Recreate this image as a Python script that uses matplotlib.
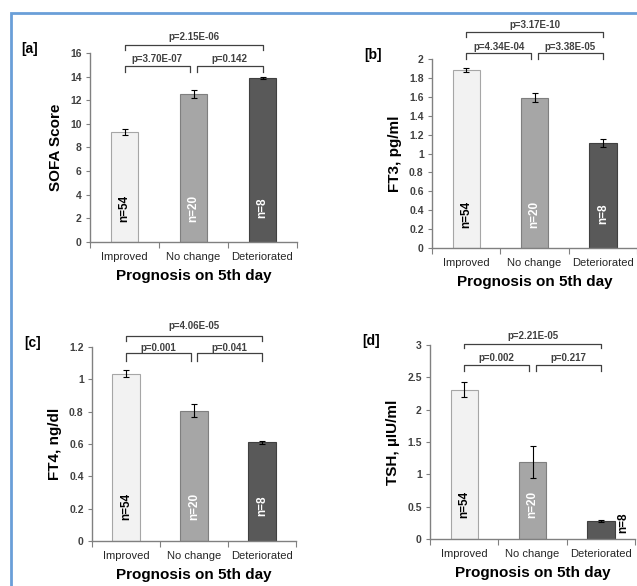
import matplotlib
matplotlib.use('Agg')
from matplotlib import pyplot as plt
from matplotlib.patches import Rectangle
import numpy as np

plt.rcParams['font.family'] = ['Liberation Sans', 'DejaVu Sans']

# Data
categories = ['Improved', 'No change', 'Deteriorated']
n_labels = ['n=54', 'n=20', 'n=8']

sofa = [9.3, 12.55, 13.9]
sofa_err = [0.25, 0.35, 0.1]
ft3 = [1.88, 1.59, 1.11]
ft3_err = [0.02, 0.05, 0.04]
ft4 = [1.035, 0.805, 0.61]
ft4_err = [0.02, 0.04, 0.01]
tsh = [2.31, 1.19, 0.28]
tsh_err = [0.12, 0.25, 0.02]

p_sofa = ['p=3.70E-07', 'p=0.142', 'p=2.15E-06']
p_ft3 = ['p=4.34E-04', 'p=3.38E-05', 'p=3.17E-10']
p_ft4 = ['p=0.001', 'p=0.041', 'p=4.06E-05']
p_tsh = ['p=0.002', 'p=0.217', 'p=2.21E-05']

bar_colors = ['#f2f2f2', '#a6a6a6', '#595959']
edge_colors = ['#a6a6a6', '#7f7f7f', '#404040']
n_colors = ['black', 'white', 'white']
dark = '#404040'

W, H = 637, 586
fig = plt.figure(figsize=(W / 100, H / 100), dpi=100)

# light blue frame around the whole figure
fig.patches.append(Rectangle((11 / W, -0.05), 1.1, 1 - 13 / H + 0.05, transform=fig.transFigure,
                             fill=False, edgecolor='#6a9fd8', linewidth=2))


def panel(rect, values, errs, ymax, ystep, ylabel, tag, pvals, brk, nd_outside=False):
    ax = fig.add_axes(rect)
    x = np.arange(len(categories))
    for i in range(len(categories)):
        ax.bar(x[i], values[i], width=0.4, color=bar_colors[i], edgecolor=edge_colors[i], linewidth=0.8)
    ax.errorbar(x, values, yerr=errs, fmt='none', ecolor='black', elinewidth=0.8, capsize=2, capthick=0.8)

    ax.set_xlim(-0.5, 2.5)
    ax.set_ylim(0, ymax)
    ticks = np.arange(0, ymax + ystep / 2, ystep)
    ax.set_yticks(ticks)
    ax.set_yticklabels(['%g' % t for t in ticks])
    ax.set_xticks([-0.5, 0.5, 1.5, 2.5])
    ax.set_xticklabels([])
    ax.set_xticks(x, minor=True)
    ax.set_xticklabels(categories, minor=True, fontsize=8, color='#262626')
    ax.tick_params(axis='x', which='major', length=4, color='#808080')
    ax.tick_params(axis='x', which='minor', length=0, pad=7)
    ax.tick_params(axis='y', length=3, color='#808080', labelsize=7.5, labelcolor=dark, pad=3)
    for t in ax.get_yticklabels():
        t.set_fontweight('bold')
    for s in ['top', 'right']:
        ax.spines[s].set_visible(False)
    for s in ['left', 'bottom']:
        ax.spines[s].set_color('#808080')
        ax.spines[s].set_linewidth(1)

    ax.set_ylabel(ylabel, fontsize=11, fontweight='bold', labelpad=5)
    ax.set_xlabel('Prognosis on 5th day', fontsize=11, fontweight='bold', labelpad=5)
    ax.text(-0.33, 1.02, tag, transform=ax.transAxes, fontsize=10, fontweight='bold', va='center')

    # n labels
    for i in range(len(categories)):
        if nd_outside and i == 2:
            ax.text(x[i] + 0.33, values[i] - 0.01 * ymax, n_labels[i], rotation=90, ha='center',
                    va='center', fontsize=8.5, fontweight='bold', color='black')
        else:
            ax.text(x[i], 0.18, n_labels[i], transform=ax.get_xaxis_transform(), rotation=90,
                    ha='center', va='center', fontsize=8.5, fontweight='bold', color=n_colors[i])

    # significance brackets (blended: x data, y axes fraction)
    tr = ax.get_xaxis_transform()
    lo_b, lo_t, lo_txt, up_b, up_t, up_txt = brk
    spans = [(0, 0.95, lo_b, lo_t, lo_txt), (1.05, 2, lo_b, lo_t, lo_txt), (0, 2, up_b, up_t, up_txt)]
    for (x0, x1, yb, yt, ytxt), p in zip(spans, pvals):
        ax.plot([x0, x0, x1, x1], [yb, yt, yt, yb], color=dark, linewidth=0.9, transform=tr, clip_on=False)
        ax.text((x0 + x1) / 2, ytxt, p, transform=tr, ha='center', va='center', fontsize=7,
                fontweight='bold', color=dark)
    return ax


panel([90 / W, 1 - 242 / H, 207 / W, 189 / H], sofa, sofa_err, 16, 2, 'SOFA Score', '[a]',
      p_sofa, (0.899, 0.931, 0.968, 1.016, 1.042, 1.085))
panel([432 / W, 1 - 248 / H, 205 / W, 189 / H], ft3, ft3_err, 2, 0.2, 'FT3, pg/ml', '[b]',
      p_ft3, (1.0, 1.032, 1.063, 1.116, 1.143, 1.18))
panel([92 / W, 1 - 541 / H, 204 / W, 194 / H], ft4, ft4_err, 1.2, 0.2, 'FT4, ng/dl', '[c]',
      p_ft4, (0.928, 0.969, 0.995, 1.031, 1.057, 1.108))
panel([430 / W, 1 - 539 / H, 205 / W, 194 / H], tsh, tsh_err, 3, 0.5, 'TSH, µIU/ml', '[d]',
      p_tsh, (0.866, 0.897, 0.933, 0.985, 1.005, 1.046), nd_outside=True)

fig.savefig('out.png', dpi=100)
